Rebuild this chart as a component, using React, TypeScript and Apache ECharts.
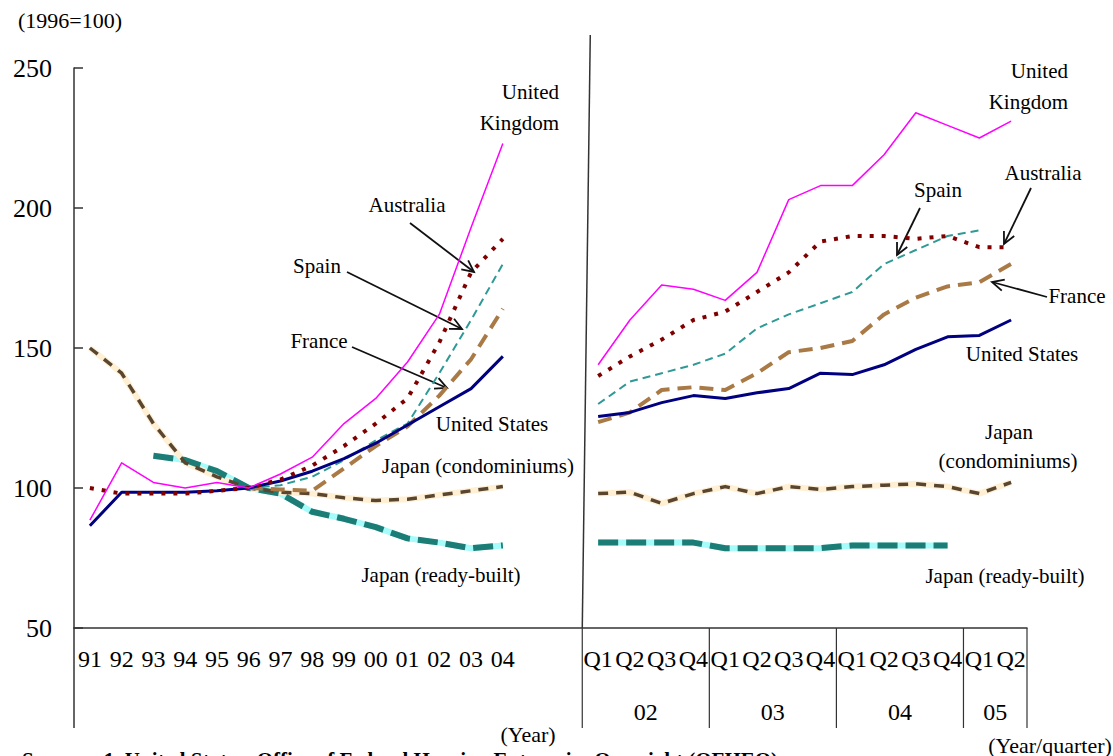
import React, { useEffect, useRef } from "react";
import * as echarts from "echarts";

// ---------- data ----------
const yearLabels = ["91", "92", "93", "94", "95", "96", "97", "98", "99", "00", "01", "02", "03", "04"];
const gapLabels = ["", ""];
const quarterLabels = ["Q1", "Q2", "Q3", "Q4", "Q1", "Q2", "Q3", "Q4", "Q1", "Q2", "Q3", "Q4", "Q1", "Q2"];
const groupLabels = ["02", "03", "04", "05"];
const groupSizes = [4, 4, 4, 2];
const categories = [...yearLabels, ...gapLabels, ...quarterLabels];

const ukAnnual = [88.5, 109, 102, 100, 102, 100, 105, 111, 123, 132, 145, 162, 193, 223];
const ukQuarterly = [144, 160, 172.5, 171, 167, 177, 203, 208, 208, 219, 234, 229.5, 225, 231];

const australiaAnnual = [100, 98, 98, 98, 99, 100, 103, 108, 115, 123, 132, 152, 177, 189];
const australiaQuarterly = [140, 147, 153, 160, 163, 170, 177, 188, 190, 190, 189, 190, 186, 186];

const spainAnnual = [null, null, null, null, null, 100, 101, 104, 110, 117, 123, 141, 160, 180];
const spainQuarterly = [130, 138, 141, 144, 148, 157, 162, 166, 170, 180, 185, 190, 192, null];

const franceAnnual = [null, null, null, null, null, 100, 99.5, 99, 107, 115, 122, 133, 146, 164];
const franceQuarterly = [123.5, 127, 135, 136, 135, 141, 148.5, 150, 152.5, 162, 168, 172, 173.5, 180];

const usAnnual = [86.5, 98.5, 98.5, 98.5, 99, 100, 102.5, 106, 110.5, 116, 122.5, 129, 135.5, 147];
const usQuarterly = [125.5, 127, 130.5, 133, 132, 134, 135.5, 141, 140.5, 144, 149.5, 154, 154.5, 160];

const condoAnnual = [150, 141, 123, 109, 104, 100, 98.5, 98, 96.5, 95.5, 96, 97.5, 99, 100.5];
const condoQuarterly = [98, 98.5, 94.5, 98, 100.5, 98, 100.5, 99.5, 100.5, 101, 101.5, 100.5, 98, 102];

const readyAnnual = [null, null, 111.5, 110, 106, 100, 98, 91.5, 89, 86, 82, 80.5, 78.5, 79.5];
const readyQuarterly = [80.5, 80.5, 80.5, 80.5, 78.5, 78.5, 78.5, 78.5, 79.5, 79.5, 79.5, 79.5, null, null];

const yTicks = { min: 50, max: 250, interval: 50 };

const join = (a: (number | null)[], q: (number | null)[]) => [...a, null, null, ...q];

const FONT = "'Liberation Serif', 'Times New Roman', serif";

function arrow(x1: number, y1: number, x2: number, y2: number) {
  const ang = Math.atan2(y2 - y1, x2 - x1);
  const L = 13;
  const a = (26 * Math.PI) / 180;
  const p1 = [x2 - L * Math.cos(ang - a), y2 - L * Math.sin(ang - a)];
  const p2 = [x2 - L * Math.cos(ang + a), y2 - L * Math.sin(ang + a)];
  return [
    { type: "line", silent: true, shape: { x1, y1, x2, y2 }, style: { stroke: "#111", lineWidth: 1.8 } },
    { type: "polyline", silent: true, shape: { points: [p1, [x2, y2], p2] }, style: { stroke: "#111", lineWidth: 1.8, fill: null } },
  ];
}

function label(text: string, x: number, y: number, align: string = "center", size = 21) {
  return {
    type: "text",
    silent: true,
    x,
    y,
    style: { text, fill: "#000", font: `${size}px ${FONT}`, textAlign: align, textVerticalAlign: "middle" },
  };
}

export default function App() {
  const ref = useRef<HTMLDivElement>(null);

  useEffect(() => {
    if (!ref.current) return;
    const chart = echarts.init(ref.current, undefined, { renderer: "svg" });

    const line = (name: string, data: any[], color: string, width: number, type: any, z: number) => ({
      name,
      type: "line",
      data,
      symbol: "none",
      silent: true,
      connectNulls: false,
      z,
      lineStyle: { color, width, type, cap: "butt", join: "round" },
    });

    chart.setOption({
      animation: false,
      grid: { left: 74, right: 86, top: 68, bottom: 128, containLabel: false },
      xAxis: {
        type: "category",
        data: categories,
        boundaryGap: true,
        axisLine: { lineStyle: { color: "#333", width: 1.5 } },
        axisTick: { show: false },
        axisLabel: { interval: 0, fontSize: 24, color: "#000", fontFamily: FONT, margin: 19 },
        splitLine: { show: false },
      },
      yAxis: {
        type: "value",
        min: yTicks.min,
        max: yTicks.max,
        interval: yTicks.interval,
        axisLine: { show: true, lineStyle: { color: "#333", width: 1.5 } },
        axisTick: { show: true, inside: true, length: 9, lineStyle: { color: "#333", width: 1.5 } },
        axisLabel: { fontSize: 26, color: "#000", fontFamily: FONT, margin: 22 },
        splitLine: { show: false },
      },
      series: [
        line("Japan (ready-built) base", join(readyAnnual, readyQuarterly), "#A6FBFB", 6, "solid", 1),
        line("Japan (ready-built)", join(readyAnnual, readyQuarterly), "#1C7D76", 6, [20, 8], 2),
        line("Japan (condominiums) base", join(condoAnnual, condoQuarterly), "#FFF0D4", 6, "solid", 1),
        line("Japan (condominiums)", join(condoAnnual, condoQuarterly), "#5A4630", 3.5, [10, 8], 2),
        line("France", join(franceAnnual, franceQuarterly), "#A97A46", 4, [14, 8], 3),
        line("Spain", join(spainAnnual, spainQuarterly), "#2E9A96", 2, [8, 5], 3),
        line("United States", join(usAnnual, usQuarterly), "#000080", 3, "solid", 4),
        line("Australia", join(australiaAnnual, australiaQuarterly), "#800000", 4, [4, 8], 4),
        line("United Kingdom", join(ukAnnual, ukQuarterly), "#FF00FF", 1.5, "solid", 5),
      ],
    });

    // decorations computed from the axes
    const px = (i: number) => chart.convertToPixel({ xAxisIndex: 0 }, i) as number;
    const bandW = px(1) - px(0);
    const boundary = (i: number) => px(i) - bandW / 2;
    const yBase = chart.convertToPixel({ yAxisIndex: 0 }, yTicks.min) as number;
    const yBottom = yBase + 100;
    const qStart = yearLabels.length + gapLabels.length;

    const graphics: any[] = [];
    graphics.push({ type: "line", silent: true, shape: { x1: boundary(0), y1: yBase, x2: boundary(0), y2: yBottom }, style: { stroke: "#333", lineWidth: 1.5 } });
    graphics.push({ type: "line", silent: true, shape: { x1: boundary(qStart) + 8, y1: 35, x2: boundary(qStart), y2: yBase }, style: { stroke: "#333", lineWidth: 1.5 } });
    let idx = qStart;
    graphics.push({ type: "line", silent: true, shape: { x1: boundary(idx), y1: yBase, x2: boundary(idx), y2: yBottom }, style: { stroke: "#333", lineWidth: 1.2 } });
    groupLabels.forEach((g, k) => {
      const s = idx;
      const e = idx + groupSizes[k];
      const xs = boundary(s);
      const xe = boundary(e);
      graphics.push({ type: "line", silent: true, shape: { x1: xe, y1: yBase, x2: xe, y2: yBottom }, style: { stroke: "#333", lineWidth: 1.2 } });
      graphics.push(label(g, (xs + xe) / 2, yBase + 84, "center", 24));
      idx = e;
    });

    graphics.push(label("(1996=100)", 18, 20, "left", 22));
    graphics.push(label("(Year)", 528, 734, "center", 22));
    graphics.push(label("(Year/quarter)", 1050, 745, "center", 22));
    graphics.push({
      type: "text",
      silent: true,
      x: 22,
      y: 749,
      style: {
        text: "Sources: 1. United States: Office of Federal Housing Enterprise Oversight (OFHEO)",
        fill: "#000",
        font: `bold 21px ${FONT}`,
        textAlign: "left",
        textVerticalAlign: "top",
      },
    });

    // left panel annotations
    graphics.push(label("United", 559, 92, "right"));
    graphics.push(label("Kingdom", 559, 123, "right"));
    graphics.push(label("Australia", 407, 205));
    graphics.push(label("Spain", 317, 266));
    graphics.push(label("France", 319, 341));
    graphics.push(label("United States", 492, 424));
    graphics.push(label("Japan (condominiums)", 478, 466));
    graphics.push(label("Japan (ready-built)", 441, 575));
    graphics.push(...arrow(410, 223, 474, 272));
    graphics.push(...arrow(347, 272, 462, 329));
    graphics.push(...arrow(352, 347, 447, 388));

    // right panel annotations
    graphics.push(label("United", 1068, 71, "right"));
    graphics.push(label("Kingdom", 1068, 102, "right"));
    graphics.push(label("Spain", 938, 190));
    graphics.push(label("Australia", 1043, 173));
    graphics.push(label("France", 1077, 296));
    graphics.push(label("United States", 1022, 354));
    graphics.push(label("Japan", 1009, 432));
    graphics.push(label("(condominiums)", 1008, 461));
    graphics.push(label("Japan (ready-built)", 1005, 576));
    graphics.push(...arrow(920, 208, 897, 255));
    graphics.push(...arrow(1031, 188, 1004, 244));
    graphics.push(...arrow(1047, 297, 992, 282));

    chart.setOption({ graphic: { elements: graphics } });

    return () => chart.dispose();
  }, []);

  return (
    <div
      ref={ref}
      style={{ position: "absolute", left: 0, top: 0, width: 1113, height: 756, background: "#fff", overflow: "hidden" }}
    />
  );
}
